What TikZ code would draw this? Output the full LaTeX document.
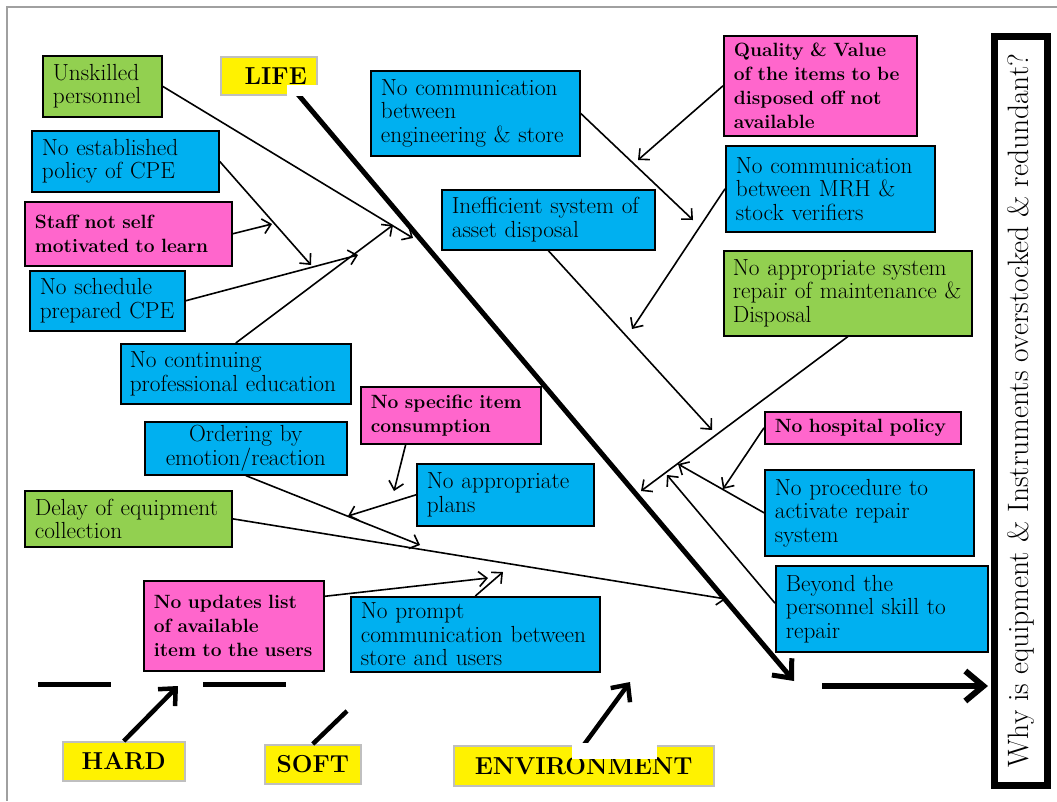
\documentclass[tikz,border=0pt]{standalone}
\usepackage{fontspec}
\usetikzlibrary{arrows.meta}

\definecolor{causeblue}{RGB}{0,176,240}
\definecolor{causepink}{RGB}{255,102,204}
\definecolor{causegreen}{RGB}{146,208,80}
\definecolor{labelgray}{RGB}{191,191,191}
\definecolor{framegray}{RGB}{160,160,160}

\tikzset{
  cause/.style = {draw, line width = 1.6pt, anchor = north west, inner xsep = 10pt, inner ysep = 0pt, align = left, font = \fontsize{23.3}{23.5}\selectfont},
  bluebox/.style = {cause, fill = causeblue},
  greenbox/.style = {cause, fill = causegreen},
  pinkbox/.style = {cause, fill = causepink, font = \bfseries\fontsize{19.2}{24}\selectfont},
  catlabel/.style = {draw = labelgray, line width = 1.5pt, fill = yellow, anchor = north west, inner sep = 0pt, font = \bfseries\fontsize{24.5}{26}\selectfont},
  link/.style = {line width = 1.6pt, -{Straight Barb[length = 8pt, width = 15pt]}},
  bone/.style = {line width = 4.5pt, -{Straight Barb[length = 13pt, width = 24pt]}},
}

\begin{document}
\begin{tikzpicture}[x = 1pt, y = -1pt]
        \useasboundingbox (0,0) rectangle (1057,801);
        \draw [framegray, line width = 2pt] (7,801) -- (7,7) -- (1057,7);

        %Life
        \node [greenbox, text width = 99pt, minimum height = 61pt]
        (unskilled)at(42,55){Unskilled\\personnel};
        \node [bluebox, text width = 167pt, minimum height = 61pt]
        (policy)at(31,130){No established\\policy of CPE};
        \node [pinkbox, text width = 187pt, minimum height = 64pt]
        (selfmot)at(24,201){Staff not self\\motivated to learn};
        \node [bluebox, text width = 135pt, minimum height = 60pt]
        (schedule)at(29,270){No schedule\\prepared CPE};
        \node [bluebox, text width = 212pt, minimum height = 60pt, inner xsep = 9pt]
        (continuing)at(120,343){No continuing\\professional education};

        %Disposal
        \node [bluebox, text width = 189pt, minimum height = 85pt]
        (engstore)at(370,70){No communication\\between\\engineering \& store};
        \node [bluebox, text width = 193pt, minimum height = 60pt]
        (inefficient)at(441,189){Inefficient system of\\asset disposal};
        \node [pinkbox, text width = 173pt, minimum height = 100pt]
        (quality)at(723,35){Quality \& Value\\of the items to be\\disposed off not\\available};
        \node [bluebox, text width = 189pt, minimum height = 86pt]
        (mrh)at(725,145){No communication\\between MRH \&\\stock verifiers};
        \node [greenbox, text width = 230pt, minimum height = 85pt, inner xsep = 9pt]
        (nosystem)at(723,250){No appropriate system\\repair of maintenance \&\\Disposal};

        %Ordering
        \node [pinkbox, text width = 160pt, minimum height = 57pt]
        (specific)at(360,386){No specific item\\consumption};
        \node [bluebox, text width = 182pt, minimum height = 53pt, align = center]
        (ordering)at(144,421){Ordering by\\emotion/reaction};
        \node [bluebox, text width = 157pt, minimum height = 62pt]
        (plans)at(416,463){No appropriate\\plans};
        \node [greenbox, text width = 187pt, minimum height = 56pt]
        (delay)at(24,490){Delay of equipment\\collection};

        %Repair
        \node [pinkbox, text width = 176pt, minimum height = 32pt]
        (hospital)at(764,411){No hospital policy};
        \node [bluebox, text width = 189pt, minimum height = 86pt]
        (procedure)at(764,469){No procedure to\\activate repair\\system};
        \node [bluebox, text width = 192pt, minimum height = 86pt]
        (beyond)at(775,565){Beyond the\\personnel skill to\\repair};

        %Store
        \node [pinkbox, text width = 160pt, minimum height = 90pt]
        (updates)at(143,580){No updates list\\of available\\item to the users};
        \node [bluebox, text width = 229pt, minimum height = 75pt]
        (prompt)at(350,596){No prompt\\communication between\\store and users};

        %Categories
        \node [catlabel, minimum width = 96pt, minimum height = 38pt]
        (life)at(220,56){\hspace{14pt}LIFE};
        \node [catlabel, minimum width = 122pt, minimum height = 39pt]
        (hard)at(62,741){HARD};
        \node [catlabel, minimum width = 96pt, minimum height = 39pt]
        (soft)at(264,744){SOFT};
        \node [catlabel, minimum width = 260pt, minimum height = 40pt]
        (env)at(453,745){ENVIRONMENT};

        %Effect
        \node [draw, line width = 7pt, rotate = 90, minimum width = 749pt, minimum height = 53pt, inner sep = 0pt, font = \fontsize{29.5}{30}\selectfont]
        (effect)at(1021,410.5){Why is equipment \& Instruments overstocked \& redundant?};

        %ends of the arrows
        \coordinate (spineTop) at (296,92);
        \coordinate (spineEnd) at (794,681);
        \coordinate (boneStart) at (822,686);
        \coordinate (boneEnd) at (988,686);
        \coordinate (pA) at (413,238);
        \coordinate (pB) at (311,265);
        \coordinate (pC) at (272,224);
        \coordinate (pD) at (358,255);
        \coordinate (pE) at (393,225);
        \coordinate (pF) at (693,220);
        \coordinate (pG) at (638,160);
        \coordinate (pH) at (632,329);
        \coordinate (pI) at (712,430);
        \coordinate (pJ) at (641,491);
        \coordinate (pK) at (723,489);
        \coordinate (pL) at (678,464);
        \coordinate (pM) at (667,475);
        \coordinate (pN) at (394,491);
        \coordinate (pO) at (348,516);
        \coordinate (pP) at (420,545);
        \coordinate (pQ) at (726,599);
        \coordinate (pR) at (488,578);
        \coordinate (pS) at (503,572);
        \coordinate (pHard) at (178,686);
        \coordinate (pSoft) at (347,711);
        \coordinate (pEnv) at (630,682);

        %spine
        \draw [line width = 5pt, -{Straight Barb[length = 15pt, width = 26pt]}](spineTop)--(spineEnd);
        \draw [line width = 6pt, -{Straight Barb[length = 18pt, width = 30pt]}](boneStart)--(boneEnd);
        \draw [line width = 5pt](38,684)--(111,684);
        \draw [line width = 5pt](203,684)--(286,684);

        \draw [bone](hard.north)--(pHard);
        \draw [line width = 4.5pt](soft.north)--(pSoft);
        \draw [bone](env.north)--(pEnv);

        \draw [link](unskilled.east)--(pA);
        \draw [link](policy.east)--(pB);
        \draw [link](selfmot.east)--(pC);
        \draw [link](schedule.east)--(pD);
        \draw [link](continuing.north)--(pE);

        \draw [link](engstore.east)--(pF);
        \draw [link](quality.west)--(pG);
        \draw [link](mrh.west)--(pH);
        \draw [link](inefficient.south)--(pI);
        \draw [link](nosystem.south)--(pJ);

        \draw [link](hospital.west)--(pK);
        \draw [link](procedure.west)--(pL);
        \draw [link](beyond.177)--(pM);

        \draw [link](specific.213)--(pN);
        \draw [link](plans.west)--(pO);
        \draw [link](ordering.south)--(pP);
        \draw [link](delay.east)--(pQ);
        \draw [link](updates.18)--(pR);
        \draw [link](prompt.north)--(pS);

        %white patches
        \fill [white](287,85) rectangle (318,96);
        \fill [white](572,743) rectangle (657,759);

    \end{tikzpicture}
\end{document}
